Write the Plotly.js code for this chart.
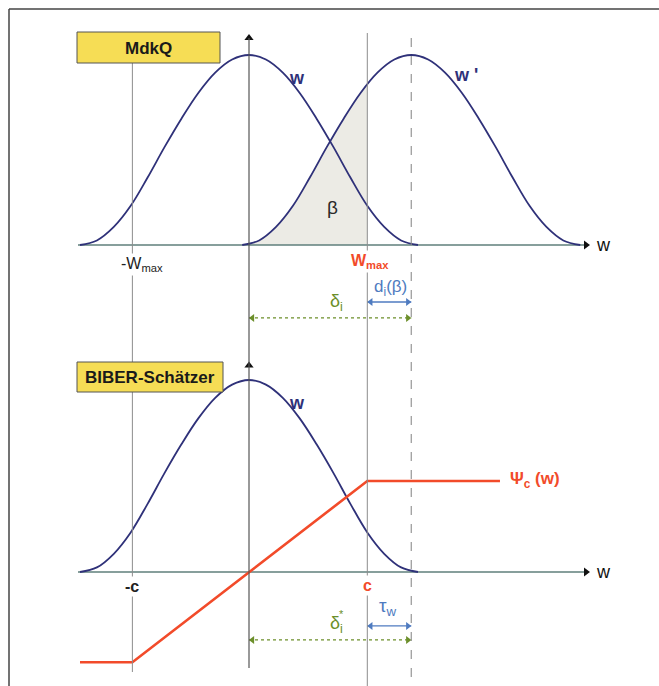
<!DOCTYPE html>
<html><head><meta charset="utf-8">
<script src="https://cdn.plot.ly/plotly-3.0.1.min.js"></script>
<style>html,body{margin:0;padding:0;background:#fff}#chart{width:659px;height:686px}</style>
</head><body><div id="chart"></div>
<script>
// ---- data ----
const curveX = [-1,-0.9,-0.8,-0.7,-0.6,-0.5,-0.4,-0.3,-0.2,-0.1,0,0.1,0.2,0.3,0.4,0.5,0.6,0.7,0.8,0.9,1];
const curveW = [0,0.024,0.095,0.206,0.355,0.515,0.665,0.8,0.907,0.976,1,0.976,0.907,0.8,0.665,0.515,0.355,0.206,0.095,0.024,0];
const shiftedX = [-0.04,0.06,0.16,0.26,0.36,0.46,0.56,0.66,0.76,0.86,0.96,1.06,1.16,1.26,1.36,1.46,1.56,1.66,1.76,1.86,1.96];
const betaX = [-0.04,0.06,0.16,0.26,0.36,0.46,0.56,0.66,0.70];
const betaY = [0,0.024,0.095,0.206,0.355,0.515,0.665,0.8,0.845];
const psiX = [-1.0,-0.69,0.70,1.485];
const psiY = [-0.47,-0.47,0.474,0.474];
const negLimit = -0.69, posLimit = 0.70, delta = 0.96;
const axisStart = -1.012, axisEnd = 1.994;
const labels = {top:"MdkQ", bottom:"BIBER-Schätzer"};

// ---- layout helpers (page pixels -> paper) ----
const W = 659, H = 686;
const PX = p => p / W, PY = p => 1 - p / H;
const navy = '#2f3179', red = '#f24b2a', green = '#6c8f2a', blue = '#4f7bc0', grey = '#8c8c8c';
const F = 'Liberation Sans, Arial, sans-serif';

const traces = [];
// shaded beta area
traces.push({x: betaX, y: betaY, xaxis:'x', yaxis:'y', mode:'lines', line:{width:0, shape:'spline'}, fill:'tozeroy', fillcolor:'#ecebe5'});
// horizontal axes
traces.push({x:[axisStart, axisEnd], y:[0,0], xaxis:'x', yaxis:'y', mode:'lines', line:{color:'#5f7f7b', width:1.3}});
traces.push({x:[axisStart, axisEnd], y:[0,0], xaxis:'x', yaxis:'y2', mode:'lines', line:{color:'#5f7f7b', width:1.3}});
traces.push({x:[axisEnd], y:[0], xaxis:'x', yaxis:'y', mode:'markers', marker:{symbol:'triangle-right', size:8, color:'#111'}});
traces.push({x:[axisEnd], y:[0], xaxis:'x', yaxis:'y2', mode:'markers', marker:{symbol:'triangle-right', size:8, color:'#111'}});
traces.push({x:[0], y:[1.09], xaxis:'x', yaxis:'y', mode:'markers', marker:{symbol:'triangle-up', size:8, color:'#111'}});
traces.push({x:[0], y:[1.075], xaxis:'x', yaxis:'y2', mode:'markers', marker:{symbol:'triangle-up', size:8, color:'#111'}});
// curves
traces.push({x: curveX, y: curveW, xaxis:'x', yaxis:'y', mode:'lines', line:{color:navy, width:1.8, shape:'spline'}});
traces.push({x: shiftedX, y: curveW, xaxis:'x', yaxis:'y', mode:'lines', line:{color:navy, width:1.8, shape:'spline'}});
traces.push({x: curveX, y: curveW, xaxis:'x', yaxis:'y2', mode:'lines', line:{color:navy, width:1.8, shape:'spline'}});
traces.push({x: psiX, y: psiY, xaxis:'x', yaxis:'y2', mode:'lines', line:{color:red, width:2.6}});
// dimension arrows
function dimArrow(x0, x1, y, ax, color, dash){
  traces.push({x:[x0,x1], y:[y,y], xaxis:'x', yaxis:ax, mode:'lines', line:{color:color, width:1.3, dash:dash}});
  traces.push({x:[x0+0.02, x1-0.02], y:[y,y], xaxis:'x', yaxis:ax, mode:'markers', marker:{symbol:['triangle-left','triangle-right'], size:7, color:color}});
}
dimArrow(0, delta, -0.384, 'y', green, 'dot');
dimArrow(posLimit, delta, -0.30, 'y', blue, 'solid');
dimArrow(0, delta, -0.354, 'y2', green, 'dot');
dimArrow(posLimit, delta, -0.281, 'y2', blue, 'solid');
traces.forEach(t => {t.showlegend = false; t.hoverinfo = 'skip';});

const shapes = [
  // frame
  {type:'line', xref:'paper', yref:'paper', x0:PX(9), x1:1, y0:PY(9), y1:PY(9), line:{color:'#444', width:1.5}},
  {type:'line', xref:'paper', yref:'paper', x0:PX(9), x1:PX(9), y0:PY(9), y1:0, line:{color:'#444', width:1.5}},
  // vertical reference lines
  {type:'line', xref:'x', yref:'paper', x0:negLimit, x1:negLimit, y0:PY(63), y1:PY(672), line:{color:grey, width:1}},
  {type:'line', xref:'x', yref:'paper', x0:posLimit, x1:posLimit, y0:PY(33), y1:PY(686), line:{color:grey, width:1}},
  {type:'line', xref:'x', yref:'paper', x0:delta, x1:delta, y0:PY(38), y1:PY(686), line:{color:grey, width:1.1, dash:'dash'}},
  {type:'line', xref:'x', yref:'paper', x0:0, x1:0, y0:PY(38), y1:PY(668), line:{color:'#555', width:1.2}},
  // yellow boxes
  {type:'rect', xref:'paper', yref:'paper', x0:PX(77), x1:PX(220), y0:PY(32), y1:PY(63), fillcolor:'#f6dd55', line:{color:'#555', width:1}},
  {type:'rect', xref:'paper', yref:'paper', x0:PX(77), x1:PX(223), y0:PY(362), y1:PY(392), fillcolor:'#f6dd55', line:{color:'#555', width:1}}
];

function txt(x, y, yref, text, size, color, extra){
  return Object.assign({x:x, y:y, xref:'x', yref:yref, text:text, showarrow:false, xanchor:'center', yanchor:'middle', font:{family:F, size:size, color:color}}, extra||{});
}
const annotations = [
  {x:PX(148), y:PY(48), xref:'paper', yref:'paper', xanchor:'center', yanchor:'middle', text:'<b>'+labels.top+'</b>', showarrow:false, font:{family:F, size:17, color:'#1a1a1a'}},
  {x:PX(150), y:PY(377), xref:'paper', yref:'paper', xanchor:'center', yanchor:'middle', text:'<b>'+labels.bottom+'</b>', showarrow:false, font:{family:F, size:17, color:'#1a1a1a'}},
  txt(0.284, 0.879, 'y', '<b>w</b>', 18, navy),
  txt(1.284, 0.895, 'y', "<b>w '</b>", 18, navy),
  txt(0.497, 0.20, 'y', 'β', 19, '#2a2a2a'),
  txt(0.716, -0.085, 'y', '<b>W<sub>max</sub></b>', 16, red, {bgcolor:'#fff'}),
  txt(-0.633, -0.10, 'y', '-W<sub>max</sub>', 16, '#222', {bgcolor:'#fff'}),
  txt(2.10, 0, 'y', 'w', 18, '#111'),
  txt(0.515, -0.30, 'y', 'δ<sub>i</sub>', 18, green),
  txt(0.84, -0.225, 'y', 'd<sub>i</sub>(β)', 17, blue),
  txt(0.284, 0.88, 'y2', '<b>w</b>', 18, navy),
  txt(1.69, 0.479, 'y2', '<b>Ψ<sub>c</sub> (w)</b>', 17, red),
  txt(-0.69, -0.078, 'y2', '<b>-c</b>', 16, '#222', {bgcolor:'#fff'}),
  txt(0.70, -0.068, 'y2', '<b>c</b>', 16, red, {bgcolor:'#fff'}),
  txt(2.10, 0, 'y2', 'w', 18, '#111'),
  txt(0.52, -0.276, 'y2', 'δ<sub>i</sub>', 18, green),
  txt(0.548, -0.22, 'y2', '*', 11, green),
  txt(0.82, -0.18, 'y2', 'τ<sub>w</sub>', 19, blue)
];

const layout = {
  width: W, height: H, margin:{l:0, r:0, t:0, b:0},
  paper_bgcolor:'#fff', plot_bgcolor:'rgba(0,0,0,0)', showlegend:false,
  xaxis:{range:[-249/169, 410/169], visible:false, fixedrange:true},
  yaxis:{domain:[0.5,1], range:[-0.51579, 1.28947], visible:false, fixedrange:true},
  yaxis2:{domain:[0,0.5], range:[-0.59375, 1.19271], visible:false, fixedrange:true},
  shapes: shapes, annotations: annotations
};
Plotly.newPlot('chart', traces, layout, {displayModeBar:false, staticPlot:true});
</script></body></html>
